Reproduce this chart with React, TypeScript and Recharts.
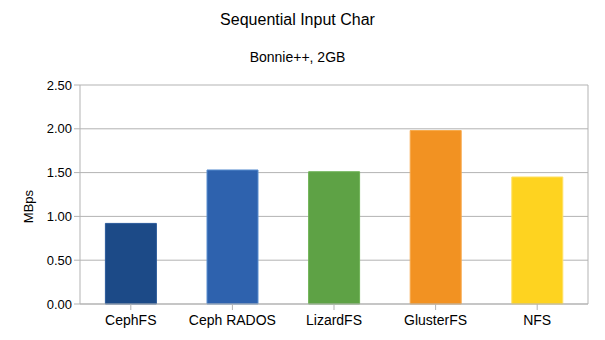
import React from 'react';
import { BarChart, Bar, XAxis, YAxis, CartesianGrid, Cell } from 'recharts';

const categories = ['CephFS', 'Ceph RADOS', 'LizardFS', 'GlusterFS', 'NFS'];
const mbps = [0.92, 1.53, 1.51, 1.98, 1.45];
const barColors = ['#1c4a87', '#2e62ae', '#5ea245', '#f29222', '#fed320'];
const barStrokes = ['#2a5a9a', '#5a8fd0', '#6fb356', '#f7a94a', '#ffe066'];
const yTicks = [0, 0.5, 1, 1.5, 2, 2.5];

const data = categories.map((name, i) => ({ name, value: mbps[i] }));

const font = '"Liberation Sans", Arial, sans-serif';

const App: React.FC = () => {
    return (
        <div style={{ position: 'absolute', left: 0, top: 0, width: 605, height: 340, background: '#fff', fontFamily: font }}>
            <div style={{ position: 'absolute', top: 11, left: 0, width: 595, textAlign: 'center', fontSize: 16, color: '#000' }}>
                Sequential Input Char
            </div>
            <div style={{ position: 'absolute', top: 49, left: 0, width: 595, textAlign: 'center', fontSize: 14, color: '#000' }}>
                Bonnie++, 2GB
            </div>
            <BarChart
                width={605}
                height={340}
                data={data}
                margin={{ top: 85, right: 17, left: 0, bottom: 6 }}
                barCategoryGap="25%"
            >
                <CartesianGrid
                    stroke="#b3b3b3"
                    vertical={true}
                    verticalCoordinatesGenerator={({ offset }: any) => [offset.left + offset.width]}
                />
                <XAxis
                    dataKey="name"
                    height={30}
                    stroke="#b3b3b3"
                    tickSize={6}
                    tick={{ fill: '#000', fontSize: 14, fontFamily: font, dy: 3 }}
                    interval={0}
                />
                <YAxis
                    width={80}
                    domain={[0, 2.5]}
                    ticks={yTicks}
                    stroke="#b3b3b3"
                    tickSize={6}
                    tickFormatter={(v: number) => v.toFixed(2)}
                    tick={{ fill: '#000', fontSize: 13, fontFamily: font }}
                    label={{ value: 'MBps', angle: -90, position: 'insideLeft', offset: 28, dy: 12, style: { fill: '#000', fontSize: 13, fontFamily: font, textAnchor: 'middle' } }}
                />
                <Bar dataKey="value" isAnimationActive={false}>
                    {data.map((d, i) => (
                        <Cell key={d.name} fill={barColors[i]} stroke={barStrokes[i]} strokeWidth={1} />
                    ))}
                </Bar>
            </BarChart>
        </div>
    );
};

export default App;
